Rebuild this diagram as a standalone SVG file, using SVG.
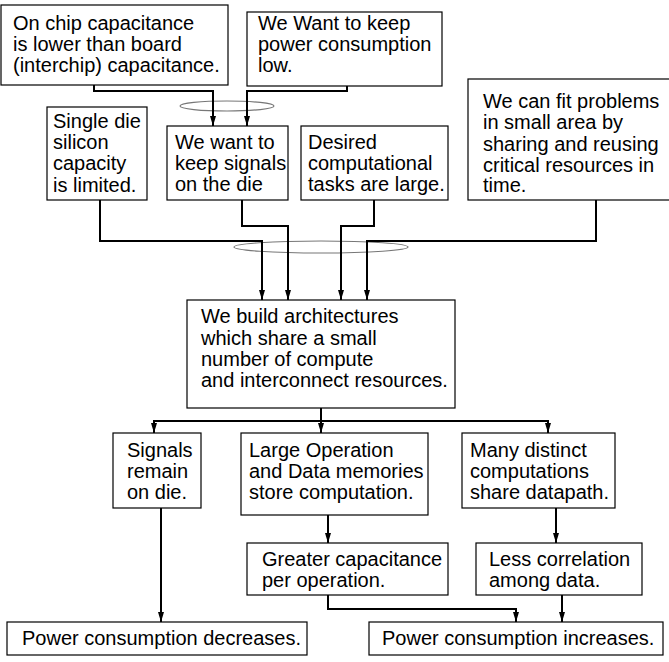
<svg xmlns="http://www.w3.org/2000/svg" width="669" height="662" viewBox="0 0 669 662">
<style>
.box{fill:#fff;stroke:#000;stroke-width:1.2}
.t{font-family:"Liberation Sans",Arial,Helvetica,sans-serif;font-size:20px;fill:#000}
.c{fill:none;stroke:#000;stroke-width:2}
.e{fill:none;stroke:#777;stroke-width:1.2}
</style>
<defs>
<marker id="ah" viewBox="0 0 10 6" markerWidth="10" markerHeight="6" refX="10" refY="3" orient="auto" markerUnits="userSpaceOnUse">
<path d="M0,0 L10,3 L0,6 z" fill="#000"/>
</marker>
</defs>
<rect width="669" height="662" fill="#fff"/>
<g id="n1"><rect class="box" x="1" y="5" width="227" height="80"/>
<text class="t" x="13" y="30">On chip capacitance</text><text class="t" x="13" y="51">is lower than board</text><text class="t" x="13" y="72">(interchip) capacitance.</text></g>
<g id="n2"><rect class="box" x="247" y="12" width="195" height="74"/>
<text class="t" x="258" y="30">We Want to keep</text><text class="t" x="258" y="51">power consumption</text><text class="t" x="258" y="72">low.</text></g>
<g id="n3"><rect class="box" x="47" y="107" width="100" height="93"/>
<text class="t" x="53" y="128">Single die</text><text class="t" x="53" y="149">silicon</text><text class="t" x="53" y="170">capacity</text><text class="t" x="53" y="192">is limited.</text></g>
<g id="n4"><rect class="box" x="167" y="126" width="121" height="74"/>
<text class="t" x="175" y="149">We want to</text><text class="t" x="175" y="170">keep signals</text><text class="t" x="175" y="191">on the die</text></g>
<g id="n5"><rect class="box" x="301" y="126" width="147" height="74"/>
<text class="t" x="308" y="149">Desired</text><text class="t" x="308" y="170">computational</text><text class="t" x="308" y="191">tasks are large.</text></g>
<g id="n6"><rect class="box" x="468" y="79" width="205" height="121"/>
<text class="t" x="483" y="108">We can fit problems</text><text class="t" x="483" y="129">in small area by</text><text class="t" x="483" y="151">sharing and reusing</text><text class="t" x="483" y="172">critical resources in</text><text class="t" x="483" y="192">time.</text></g>
<g id="n7"><rect class="box" x="187" y="300" width="268" height="108"/>
<text class="t" x="201" y="323">We build architectures</text><text class="t" x="201" y="345">which share a small</text><text class="t" x="201" y="366">number of compute</text><text class="t" x="201" y="387">and interconnect resources.</text></g>
<g id="n8"><rect class="box" x="113" y="433" width="88" height="75"/>
<text class="t" x="127" y="457">Signals</text><text class="t" x="127" y="478">remain</text><text class="t" x="127" y="499">on die.</text></g>
<g id="n9"><rect class="box" x="241" y="433" width="187" height="82"/>
<text class="t" x="249" y="457">Large Operation</text><text class="t" x="249" y="478">and Data memories</text><text class="t" x="249" y="499">store computation.</text></g>
<g id="n10"><rect class="box" x="462" y="433" width="153" height="75"/>
<text class="t" x="470" y="457">Many distinct</text><text class="t" x="470" y="478">computations</text><text class="t" x="470" y="499">share datapath.</text></g>
<g id="n11"><rect class="box" x="247" y="543" width="201" height="52"/>
<text class="t" x="262" y="566">Greater capacitance</text><text class="t" x="262" y="587">per operation.</text></g>
<g id="n12"><rect class="box" x="476" y="543" width="166" height="52"/>
<text class="t" x="489" y="566">Less correlation</text><text class="t" x="489" y="587">among data.</text></g>
<g id="n13"><rect class="box" x="7" y="622" width="300" height="33"/>
<text class="t" x="22" y="645">Power consumption decreases.</text></g>
<g id="n14"><rect class="box" x="369" y="622" width="294" height="33"/>
<text class="t" x="382" y="645">Power consumption increases.</text></g>
<g id="connectors">
<ellipse class="e" cx="227" cy="106" rx="47" ry="5"/>
<ellipse class="e" cx="321" cy="247" rx="87" ry="6"/>
<path class="c" d="M94,85 V91 H213 V126" marker-end="url(#ah)"/>
<path class="c" d="M347,86 V91 H247 V126" marker-end="url(#ah)"/>
<path class="c" d="M100,200 V241 H262 V300" marker-end="url(#ah)"/>
<path class="c" d="M242,200 V226 H288 V300" marker-end="url(#ah)"/>
<path class="c" d="M374,200 V226 H341 V300" marker-end="url(#ah)"/>
<path class="c" d="M596,200 V241 H367 V300" marker-end="url(#ah)"/>
<path class="c" d="M321,408 V421 H154 V433" marker-end="url(#ah)"/>
<path class="c" d="M321,421 V433" marker-end="url(#ah)"/>
<path class="c" d="M321,421 H548 V433" marker-end="url(#ah)"/>
<path class="c" d="M328,515 V543" marker-end="url(#ah)"/>
<path class="c" d="M556,508 V543" marker-end="url(#ah)"/>
<path class="c" d="M161,508 V622" marker-end="url(#ah)"/>
<path class="c" d="M328,595 V609 H516 V622" marker-end="url(#ah)"/>
<path class="c" d="M562,595 V622" marker-end="url(#ah)"/>
</g>
</svg>
